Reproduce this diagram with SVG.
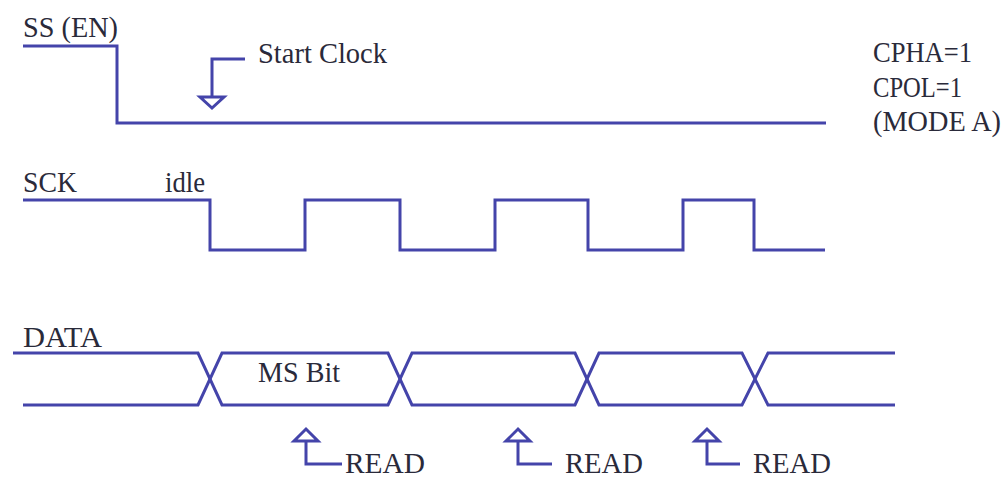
<svg xmlns="http://www.w3.org/2000/svg" width="1003" height="478" viewBox="0 0 1003 478">
<style>
.w{fill:none;stroke:#4444aa;stroke-width:3;stroke-linejoin:miter}
.a{fill:#ffffff;stroke:#4444aa;stroke-width:3;stroke-linejoin:miter}
.t{font-family:'Liberation Serif','Times New Roman','DejaVu Serif',Times,serif;font-size:29px;fill:#2a2a3a}
</style>
<rect width="1003" height="478" fill="#ffffff"/>
<g id="ss">
<text class="t" x="23" y="37" textLength="95" lengthAdjust="spacingAndGlyphs">SS (EN)</text>
<path class="w" d="M23,46 H117 V123 H826"/>
</g>
<g id="mode">
<text class="t" x="873" y="62" textLength="99" lengthAdjust="spacingAndGlyphs">CPHA=1</text>
<text class="t" x="873" y="97" textLength="89" lengthAdjust="spacingAndGlyphs">CPOL=1</text>
<text class="t" x="873" y="131" textLength="128" lengthAdjust="spacingAndGlyphs">(MODE A)</text>
</g>
<g id="sck">
<text class="t" x="23" y="192" textLength="54" lengthAdjust="spacingAndGlyphs">SCK</text>
<text class="t" x="165" y="192" textLength="40" lengthAdjust="spacingAndGlyphs">idle</text>
<path class="w" d="M23,200 H210 V250 H305 V200 H400 V250 H495 V200 H588 V250 H683 V200 H754 V250 H825"/>
</g>
<g id="data">
<text class="t" x="23" y="347" textLength="79" lengthAdjust="spacingAndGlyphs">DATA</text>
<path class="w" d="M13,353 H198 L222,405 H388 L412,353 H575 L599,405 H742 L768,353 H895"/>
<path class="w" d="M23,405 H198 L222,353 H388 L412,405 H575 L599,353 H742 L768,405 H895"/>
<text class="t" x="258" y="382" textLength="82" lengthAdjust="spacingAndGlyphs">MS Bit</text>
</g>
<g id="start-clock">
<text class="t" x="258" y="63" textLength="129" lengthAdjust="spacingAndGlyphs">Start Clock</text>
</g>
<g id="read1"><text class="t" x="345" y="473" textLength="80" lengthAdjust="spacingAndGlyphs">READ</text></g>
<g id="read2"><text class="t" x="565" y="473" textLength="78" lengthAdjust="spacingAndGlyphs">READ</text></g>
<g id="read3"><text class="t" x="753" y="473" textLength="78" lengthAdjust="spacingAndGlyphs">READ</text></g>
<g id="connectors">
<path class="w" d="M245,59 H212 V97"/>
<path class="a" d="M200,97 H224 L212,108 Z"/>
<path class="w" d="M342,464 H306 V441"/>
<path class="a" d="M294,441 H318 L306,429 Z"/>
<path class="w" d="M552,464 H518 V441"/>
<path class="a" d="M506,441 H530 L518,429 Z"/>
<path class="w" d="M740,464 H707 V441"/>
<path class="a" d="M695,441 H719 L707,429 Z"/>
</g>
</svg>
